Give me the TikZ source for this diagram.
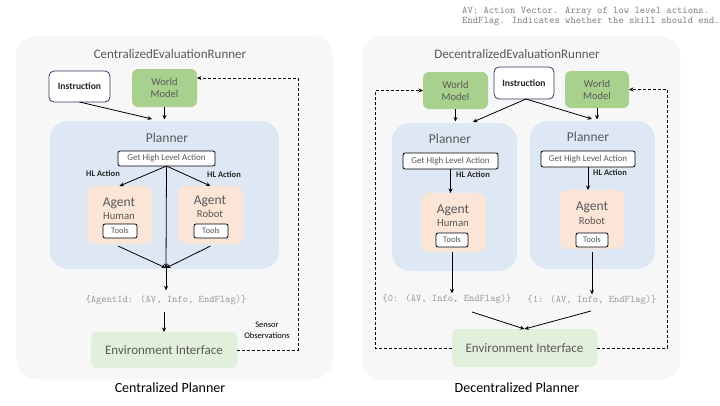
\documentclass[tikz,border=0pt]{standalone}
\usepackage{fontspec}
\setmainfont{Carlito}
\usetikzlibrary{arrows.meta}
\definecolor{panelbg}{HTML}{F7F7F7}
\definecolor{plannerbg}{HTML}{DEE8F5}
\definecolor{agentbg}{HTML}{FBE5D6}
\definecolor{wmbg}{HTML}{A9D18E}
\definecolor{envbg}{HTML}{E2EFDA}
\definecolor{txtgray}{HTML}{595959}
\definecolor{navy}{HTML}{2F3F5F}
\definecolor{monogray}{HTML}{9A9A9A}
\definecolor{notegray}{HTML}{7F7F7F}
\begin{document}
\begin{tikzpicture}[x=1pt,y=-1pt,
  box/.style={inner sep=0pt, outer sep=0pt},
  panel/.style={box, fill=panelbg, rounded corners=20pt},
  plannerbox/.style={box, fill=plannerbg, rounded corners=18pt},
  agentbox/.style={box, fill=agentbg, rounded corners=8pt},
  wmbox/.style={box, fill=wmbg, rounded corners=6pt, text=txtgray, align=center, font=\fontsize{10.5}{12}\selectfont},
  envbox/.style={box, fill=envbg, rounded corners=6pt, text=txtgray, font=\fontsize{13}{15}\selectfont},
  instrbox/.style={box, draw=navy, fill=white, rounded corners=5pt, line width=0.8pt, text=black!85, font=\bfseries\fontsize{9.6}{11}\selectfont},
  ghlabox/.style={box, draw=black, fill=white, rounded corners=2pt, line width=0.8pt, text=txtgray, font=\fontsize{9}{11}\selectfont},
  toolsbox/.style={box, draw=black, fill=white, rounded corners=2pt, line width=0.8pt, text=txtgray, font=\fontsize{8.5}{10}\selectfont},
  titletext/.style={text=txtgray, font=\fontsize{13}{15}\selectfont},
  plannertext/.style={text=txtgray, font=\fontsize{13.5}{15}\selectfont},
  agenttext/.style={text=txtgray, font=\fontsize{13.5}{15}\selectfont},
  roletext/.style={text=txtgray, font=\fontsize{10.7}{12}\selectfont},
  hltext/.style={text=black!85, font=\bfseries\fontsize{8.5}{10}\selectfont},
  monotext/.style={box, text=monogray, font=\ttfamily\fontsize{10.1}{11}\selectfont},
  captiontext/.style={text=black, font=\fontsize{14}{16}\selectfont},
  arr/.style={-{Stealth[length=4.5pt,width=4pt]}, line width=0.8pt, black},
  dashline/.style={dash pattern=on 3pt off 2pt, line width=0.8pt}
]
\useasboundingbox (0,0) rectangle (720,405);
\fill[white] (0,0) rectangle (720,405);

% note
\node[anchor=north west, align=left, inner sep=0pt, text=notegray, font=\ttfamily\fontsize{10.15}{10}\selectfont] (note) at (462,7)
  {AV: Action Vector. Array of low level actions.\\EndFlag. Indicates whether the skill should end.};

% ================= Centralized =================
\node[panel, minimum width=317pt, minimum height=343pt] (panelL) at (174.5,207.5) {};
\node[titletext] (titleL) at (170,54) {CentralizedEvaluationRunner};

\node[instrbox, minimum width=61pt, minimum height=31pt] (instrC) at (79.5,86.5) {Instruction};
\node[wmbox, minimum width=65pt, minimum height=38pt] (wmC) at (164.5,88) {World\\Model};

\node[plannerbox, minimum width=229pt, minimum height=148pt] (plannerC) at (164.5,195) {};
\node[plannertext] (plannerCt) at (167,138) {Planner};
\node[ghlabox, minimum width=97pt, minimum height=15pt] (ghlaC) at (166.5,158.5) {Get High Level Action};
\node[hltext] (hlCL) at (103,174) {HL Action};
\node[hltext] (hlCR) at (224,175) {HL Action};

\node[agentbox, minimum width=65pt, minimum height=58pt] (agCH) at (119.5,215) {};
\node[agenttext] (agCHt) at (119,203) {Agent};
\node[roletext] (agCHr) at (119,216) {Human};
\node[toolsbox, minimum width=34pt, minimum height=14pt] (toolsCH) at (120,231) {Tools};

\node[agentbox, minimum width=65pt, minimum height=58pt] (agCR) at (210.5,215) {};
\node[agenttext] (agCRt) at (210,201) {Agent};
\node[roletext] (agCRr) at (210,214) {Robot};
\node[toolsbox, minimum width=34pt, minimum height=14pt] (toolsCR) at (211,231) {Tools};

\coordinate (conv) at (166,268);
\coordinate (instrCend) at (152,119);

\node[monotext] (monoC) at (166,300) {\{AgentId: (AV, Info, EndFlag)\}};
\node[envbox, minimum width=146pt, minimum height=36pt] (envC) at (164,350) {Environment Interface};
\node[align=center, inner sep=0pt, font=\fontsize{8.5}{11}\selectfont] (sensor) at (267,330.5) {Sensor\\Observations};
\node[captiontext] (capL) at (170,388) {Centralized Planner};

\draw[arr] (instrC.south) -- (instrCend);
\draw[arr] (wmC.south) -- ([yshift=1.5pt]wmC.south |- plannerC.north);
\draw[arr] (ghlaC.south) -- (agCH.north);
\draw[arr] (ghlaC.south) -- (agCR.north);
\draw[arr] (ghlaC.south) -- (conv);
\draw[arr] ([xshift=-1.5pt,yshift=-2pt]agCH.south) -- (conv);
\draw[arr] ([yshift=-2pt]agCR.south) -- (conv);
\draw[arr, shorten >=5pt] (conv) -- (conv |- monoC.north);
\draw[arr, shorten <=7pt] (monoC.south -| envC.north) -- (envC.north);
\draw[dashline, arr] (envC.east) -- (298,350) -- (298,78) -- ([yshift=10pt]wmC.east);

% ================= Decentralized =================
\node[panel, minimum width=318pt, minimum height=344pt] (panelR) at (521,208) {};
\node[titletext] (titleR) at (517,54) {DecentralizedEvaluationRunner};

\node[wmbox, minimum width=65pt, minimum height=37pt] (wmDL) at (455.5,90.5) {World\\Model};
\node[wmbox, minimum width=64pt, minimum height=37pt] (wmDR) at (597,89.5) {World\\Model};
\node[instrbox, minimum width=60pt, minimum height=32pt] (instrD) at (524,83) {Instruction};

\node[plannerbox, minimum width=125pt, minimum height=148pt] (plannerDL) at (454.5,197) {};
\node[plannerbox, minimum width=125pt, minimum height=148pt] (plannerDR) at (592.5,195) {};
\node[plannertext] (plannerDLt) at (450,139) {Planner};
\node[plannertext] (plannerDRt) at (588,137) {Planner};
\node[ghlabox, minimum width=95pt, minimum height=16pt] (ghlaDL) at (450.5,161) {Get High Level Action};
\node[ghlabox, minimum width=94pt, minimum height=16pt] (ghlaDR) at (588,159) {Get High Level Action};
\node[hltext] (hlDL) at (473,175) {HL Action};
\node[hltext] (hlDR) at (610,173) {HL Action};

\node[agentbox, minimum width=65pt, minimum height=59pt] (agDH) at (453.5,222.5) {};
\node[agenttext] (agDHt) at (453,210) {Agent};
\node[roletext] (agDHr) at (453,223) {Human};
\node[toolsbox, minimum width=32pt, minimum height=14pt] (toolsDH) at (452,240) {Tools};

\node[agentbox, minimum width=64pt, minimum height=59pt] (agDR) at (592,219.5) {};
\node[agenttext] (agDRt) at (592,207) {Agent};
\node[roletext] (agDRr) at (592,221) {Robot};
\node[toolsbox, minimum width=32pt, minimum height=14pt] (toolsDR) at (592,240) {Tools};

\node[monotext] (monoDL) at (447,299) {\{0: (AV, Info, EndFlag)\}};
\node[monotext] (monoDR) at (592,300) {\{1: (AV, Info, EndFlag)\}};
\node[envbox, minimum width=145pt, minimum height=38pt] (envD) at (524.5,348) {Environment Interface};
\node[captiontext] (capR) at (517,388) {Decentralized Planner};

\coordinate (instrDL) at (473,122);
\coordinate (instrDR) at (592,119);
\coordinate (dl1) at (472,312);
\coordinate (dr1) at (591,311);

\draw[arr] ([xshift=2pt]instrD.south) -- (instrDL);
\draw[arr] ([xshift=2pt]instrD.south) -- (instrDR);
\draw[arr] (wmDL.south) -- ([yshift=1.5pt]wmDL.south |- plannerDL.north);
\draw[arr] (wmDR.south) -- ([yshift=1.5pt]wmDR.south |- plannerDR.north);
\draw[arr] (ghlaDL.south) -- (ghlaDL.south |- agDH.north);
\draw[arr] (ghlaDR.south) -- (ghlaDR.south |- agDR.north);
\draw[arr] (toolsDH.south |- agDH.south) -- ([yshift=1pt]toolsDH.south |- monoDL.north);
\draw[arr] (toolsDR.south |- agDH.south) -- ([yshift=1pt]toolsDR.south |- monoDR.north);
\draw[arr] (dl1) -- (envD.north);
\draw[arr] (dr1) -- (envD.north);
\draw[dashline, arr] (envD.west) -- (375,348) -- (375,90.5) -- (wmDL.west);
\draw[dashline, arr] (envD.east) -- (667,348) -- (667,89.5) -- (wmDR.east);
\end{tikzpicture}
\end{document}
